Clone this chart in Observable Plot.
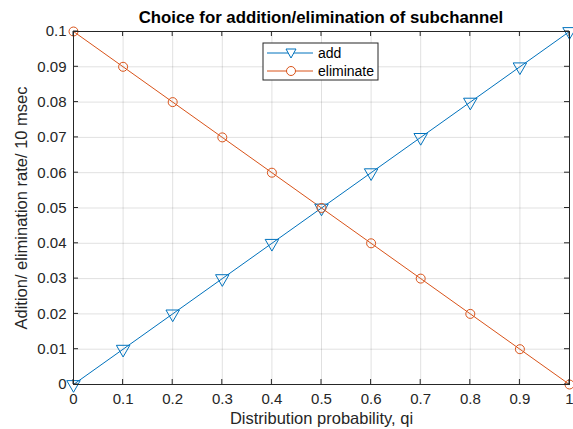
<!DOCTYPE html>
<html><head><meta charset="utf-8">
<script src="https://cdn.jsdelivr.net/npm/d3@7"></script>
<script src="https://cdn.jsdelivr.net/npm/@observablehq/plot@0.6"></script>
<style>
body{margin:0;background:#fff;font-family:Arial,"Liberation Sans",sans-serif;}
#chart{position:relative;width:573px;height:429px;}
</style></head><body><div id="chart"></div>
<script>
const qi = [0, 0.1, 0.2, 0.3, 0.4, 0.5, 0.6, 0.7, 0.8, 0.9, 1];
const addRate = [0, 0.01, 0.02, 0.03, 0.04, 0.05, 0.06, 0.07, 0.08, 0.09, 0.1];
const elimRate = [0.1, 0.09, 0.08, 0.07, 0.06, 0.05, 0.04, 0.03, 0.02, 0.01, 0];
const xTicks = [0, 0.1, 0.2, 0.3, 0.4, 0.5, 0.6, 0.7, 0.8, 0.9, 1];
const yTicks = [0, 0.01, 0.02, 0.03, 0.04, 0.05, 0.06, 0.07, 0.08, 0.09, 0.1];
const seriesNames = ["add", "eliminate"];
const colors = ["#0072BD", "#D95319"];

const addData = qi.map((x, i) => ({x, y: addRate[i]}));
const elimData = qi.map((x, i) => ({x, y: elimRate[i]}));
const fmt = d => d === 0 ? "0" : d === 1 ? "1" : String(+d.toFixed(2));
const FONT = "Arial, 'Liberation Sans', sans-serif";

const plot = Plot.plot({
  width: 573, height: 429,
  marginLeft: 73, marginRight: 4, marginTop: 31, marginBottom: 45,
  style: {fontFamily: FONT, fontSize: "15px", color: "#262626", background: "#fff"},
  x: {domain: [0, 1]},
  y: {domain: [0, 0.1]},
  marks: [
    Plot.gridX(xTicks, {stroke: "#000", strokeOpacity: 0.12}),
    Plot.gridY(yTicks, {stroke: "#000", strokeOpacity: 0.12}),
    Plot.axisX(xTicks, {anchor: "bottom", tickSize: 0, tickPadding: 9, tickFormat: fmt, label: "Distribution probability, qi", labelAnchor: "center", labelArrow: "none", labelOffset: 39, fill: "#262626"}),
    Plot.axisY(yTicks, {anchor: "left", tickSize: 0, tickPadding: 7, tickFormat: fmt, label: "Adition/ elimination rate/ 10 msec", labelAnchor: "center", labelArrow: "none", labelOffset: 58, fill: "#262626"}),
    Plot.line(addData, {x: "x", y: "y", stroke: colors[0], strokeWidth: 1}),
    Plot.line(elimData, {x: "x", y: "y", stroke: colors[1], strokeWidth: 1}),
    Plot.dot(addData, {x: "x", y: "y", symbol: "triangle", rotate: 180, r: 5, stroke: colors[0], fill: "none", strokeWidth: 1}),
    Plot.dot(elimData, {x: "x", y: "y", symbol: "circle", r: 4.5, stroke: colors[1], fill: "none", strokeWidth: 1}),
    Plot.frame({stroke: "#262626", strokeWidth: 1})
  ]
});
document.getElementById("chart").appendChild(plot);

const svg = d3.select(plot);
svg.selectAll("text").style("font-size", "15px").style("font-family", FONT);
svg.selectAll("g[aria-label='x-axis label'] text, g[aria-label='y-axis label'] text").style("font-size", "16.5px");

// inward ticks, title and legend drawn with the plot's scales
const sx = plot.scale("x"), sy = plot.scale("y");
const X = v => sx.apply(v), Y = v => sy.apply(v);
const yTop = Y(0.1), yBot = Y(0), xLeft = X(0), xRight = X(1);
const g = svg.append("g").attr("stroke", "#262626").attr("stroke-width", 1);
xTicks.forEach(t => {
  g.append("line").attr("x1", X(t)).attr("x2", X(t)).attr("y1", yBot).attr("y2", yBot - 5);
  g.append("line").attr("x1", X(t)).attr("x2", X(t)).attr("y1", yTop).attr("y2", yTop + 5);
});
yTicks.forEach(t => {
  g.append("line").attr("y1", Y(t)).attr("y2", Y(t)).attr("x1", xLeft).attr("x2", xLeft + 5);
  g.append("line").attr("y1", Y(t)).attr("y2", Y(t)).attr("x1", xRight).attr("x2", xRight - 5);
});
svg.append("text").attr("x", (xLeft + xRight) / 2).attr("y", 23).attr("text-anchor", "middle")
  .style("font-weight", "bold").style("font-size", "16.8px").style("font-family", FONT).attr("fill", "#000")
  .text("Choice for addition/elimination of subchannel");

const lg = svg.append("g").attr("transform", "translate(263,43)");
lg.append("rect").attr("width", 115).attr("height", 37).attr("fill", "#fff").attr("stroke", "#262626").attr("stroke-width", 1);
seriesNames.forEach((name, i) => {
  const yy = 10 + i * 18;
  lg.append("line").attr("x1", 4).attr("x2", 50).attr("y1", yy).attr("y2", yy).attr("stroke", colors[i]);
  if (i === 0) {
    lg.append("path").attr("d", `M${28-5},${yy-4} L${28+5},${yy-4} L28,${yy+5} Z`).attr("fill", "#fff").attr("stroke", colors[i]);
  } else {
    lg.append("circle").attr("cx", 28).attr("cy", yy).attr("r", 4.5).attr("fill", "#fff").attr("stroke", colors[i]);
  }
  lg.append("text").attr("x", 55).attr("y", yy + 5).attr("text-anchor", "start")
    .style("font-size", "14px").style("font-family", FONT).attr("fill", "#000").text(name);
});
</script></body></html>
